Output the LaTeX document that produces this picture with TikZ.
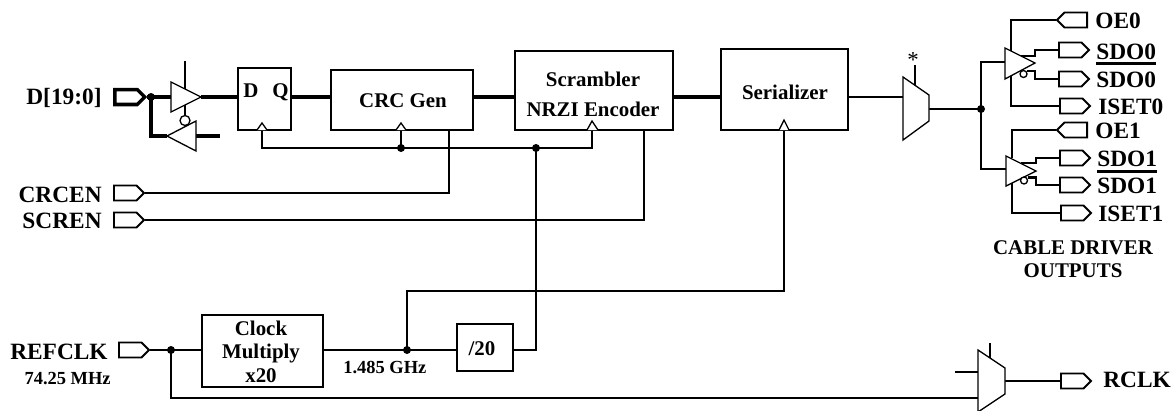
\documentclass[tikz,border=0pt]{standalone}
\usepackage{fontspec}
\setmainfont{Liberation Serif}
\usepackage{tikz}
\usetikzlibrary{fit,shapes.symbols}

\tikzset{
  wire/.style={line width=1.25pt},
  bus/.style={line width=2pt},
  gate/.style={line width=.75pt,fill=white,line join=miter},
  blockbox/.style={draw,line width=1.25pt,inner sep=0pt},
  jct/.style={circle,fill=black,inner sep=0pt,minimum size=.16cm},
  bubble/.style={circle,draw,fill=white,line width=.75pt,inner sep=0pt,minimum size=.14cm},
  portout/.style={signal,signal to=east,draw,line width=1.1pt,inner sep=0pt,minimum width=.6cm,minimum height=.3cm,anchor=west},
  portin/.style={signal,signal to=west,draw,line width=1.1pt,inner sep=0pt,minimum width=.6cm,minimum height=.3cm,anchor=east},
  big/.style={font=\bfseries\fontsize{13.3}{15}\selectfont,inner sep=0pt},
  mid/.style={font=\bfseries\fontsize{11.9}{14}\selectfont,inner sep=0pt,anchor=base},
  small/.style={font=\bfseries\fontsize{10.5}{12}\selectfont,inner sep=0pt,anchor=base},
}

\begin{document}
\begin{tikzpicture}[x=.02cm,y=-.02cm]
  \useasboundingbox (0,0) rectangle (1176,410);

  % blocks
  \node[blockbox,fit={(238,68)(291,130)}] (ff) {};
  \node[blockbox,fit={(331,70)(473,130)}] (crc) {};
  \node[blockbox,fit={(515,51)(673,130)}] (scr) {};
  \node[blockbox,fit={(721,49)(848,130)}] (ser) {};
  \node[blockbox,fit={(202,315)(323,387)}] (pll) {};
  \node[blockbox,fit={(457,324)(513,371)}] (div) {};

  \node[mid,anchor=base west] (dtxt) at (243,97) {D};
  \node[mid,anchor=base west] (qtxt) at (272,97) {Q};
  \node[mid] (crctxt) at (403,107) {CRC Gen};
  \node[mid] (scrtxt) at (593,86) {Scrambler};
  \node[mid] (nrztxt) at (593,116) {NRZI Encoder};
  \node[mid] (sertxt) at (785,99) {Serializer};
  \node[mid] (plla) at (261,335) {Clock};
  \node[mid] (pllb) at (261,358) {Multiply};
  \node[mid] (pllc) at (261,382) {x20};
  \node[mid] (divtxt) at (482,355) {/20};

  % ports
  \node[portout,line width=2pt] (dport) at (113,97) {};
  \node[portout] (crcport) at (113,193) {};
  \node[portout] (scrport) at (113,220) {};
  \node[portout] (refport) at (118,350) {};
  \node[portout] (rclkport) at (1060,381) {};
  \node[portin] (oeaport) at (1088,20) {};
  \node[portout] (sdoaport) at (1058,50) {};
  \node[portout] (sdobport) at (1058,79) {};
  \node[portout] (isaport) at (1059,106) {};
  \node[portin] (oebport) at (1088,130) {};
  \node[portout] (sdocport) at (1059,158) {};
  \node[portout] (sdodport) at (1059,185) {};
  \node[portout] (isbport) at (1060,213) {};

  % labels
  \node[big,anchor=base east] (dlbl) at (102,104) {D[19:0]};
  \node[big,anchor=base east] (crclbl) at (102,202) {CRCEN};
  \node[big,anchor=base east] (scrlbl) at (102,228) {SCREN};
  \node[big,anchor=base east] (reflbl) at (108,359) {REFCLK};
  \node[small,anchor=base east] (reffrq) at (111,384) {74.25 MHz};
  \node[small,anchor=base west] (hifrq) at (343,373) {1.485 GHz};
  \node[big,anchor=base west] (rclklbl) at (1103,387) {RCLK};
  \node[big,anchor=base west] (oealbl) at (1095,28) {OE0};
  \node[big,anchor=base west] (sdoalbl) at (1096,59) {SDO0};
  \node[big,anchor=base west] (sdoblbl) at (1096,87) {SDO0};
  \node[big,anchor=base west] (isalbl) at (1098,114) {ISET0};
  \node[big,anchor=base west] (oeblbl) at (1095,138) {OE1};
  \node[big,anchor=base west] (sdoclbl) at (1097,166) {SDO1};
  \node[big,anchor=base west] (sdodlbl) at (1097,193) {SDO1};
  \node[big,anchor=base west] (isblbl) at (1098,221) {ISET1};
  \node[mid] (cablbl) at (1073,254) {CABLE DRIVER};
  \node[mid] (outlbl) at (1073,277) {OUTPUTS};
  \node[small,font=\fontsize{13}{14}\selectfont] (star) at (913,67) {*};
  \draw[line width=1.3pt] ([yshift=-.08cm]sdoalbl.south west) -- ([yshift=-.08cm]sdoalbl.south east);
  \draw[line width=1.3pt] ([yshift=-.1cm]sdoclbl.south west) -- ([yshift=-.1cm]sdoclbl.south east);

  % junctions and pins
  \node[jct] (dj) at (151,97) {};
  \node[jct] (ckj) at (401,148) {};
  \node[jct] (cksj) at (536,148) {};
  \node[jct] (refj) at (171,350) {};
  \node[jct] (hfj) at (407,350) {};
  \node[jct] (muxj) at (981,109) {};
  \coordinate (ena) at (185,61);
  \coordinate (enb) at (185,90);
  \coordinate (enc) at (185,105);
  \coordinate (bufain) at (171,97);
  \coordinate (bufaout) at (201,97);
  \coordinate (bufbin) at (167,136);
  \coordinate (bufbout) at (196,136);
  \coordinate (bufbend) at (220,136);
  \coordinate (ffd) at (ff.west |- bufaout);
  \coordinate (ffq) at (ff.east |- bufaout);
  \coordinate (ffck) at (262,130);
  \coordinate (crcck) at (401,130);
  \coordinate (scrck) at (592,130);
  \coordinate (serck) at (784,130);
  \coordinate (muxain) at (903,97);
  \coordinate (muxaout) at (929,109);
  \coordinate (muxasel) at (915,65);
  \coordinate (muxasel2) at (915,85);
  \coordinate (muxbin) at (978,398);
  \coordinate (muxbstub) at (955,372);
  \coordinate (muxbstub2) at (978,372);
  \coordinate (muxbsel) at (990,343);
  \coordinate (muxbsel2) at (990,358);
  \coordinate (muxbout) at (1005,381);
  \coordinate (drva) at (1005,62);
  \coordinate (drvb) at (1006,169);
  \coordinate (drvaoe) at (1011,51);
  \coordinate (drvais) at (1011,73);
  \coordinate (drvboe) at (1012,158);
  \coordinate (drvbis) at (1012,181);

  % wires
  \draw[bus] (dport.east) -- (dj.center) -- (bufain);
  \draw[bus] (dj.center) |- (bufbin);
  \draw[bus] (bufbout) -- (bufbend);
  \draw[bus] (bufaout) -- (ffd);
  \draw[bus] (ffq) -- (crc.west |- ffq);
  \draw[bus] (crc.east |- ffq) -- (scr.west |- ffq);
  \draw[bus] (scr.east |- ffq) -- (ser.west |- ffq);
  \draw[wire] (ser.east |- muxain) -- (muxain);
  \draw[wire] (ena) -- (enb);
  \draw[wire] (ffck) |- (cksj.center);
  \draw[wire] (crcck) -- (ckj.center);
  \draw[wire] (cksj.center) -| (scrck);
  \draw[wire] (crcport.east) -| (449,130);
  \draw[wire] (scrport.east) -| (644,130);
  \draw[wire] (refport.east) -- (pll.west |- refj);
  \draw[wire] (pll.east |- refj) -- (div.west |- refj);
  \draw[wire] (div.east |- refj) -- (cksj.center |- refj) -- (cksj.center);
  \draw[wire] (hfj.center) |- (784,291) -- (serck);
  \draw[wire] (refj.center) |- (muxbin);
  \draw[wire] (muxbstub) -- (muxbstub2);
  \draw[wire] (muxbsel) -- (muxbsel2);
  \draw[wire] (muxbout) -- (rclkport.west);
  \draw[wire] (muxasel) -- (muxasel2);
  \draw[wire] (muxaout) -- (muxj.center);
  \draw[wire] (drva) -| (muxj.center) |- (drvb);
  \draw[wire] (oeaport.west) -| (drvaoe);
  \draw[wire] (isaport.west) -| (drvais);
  \draw[wire] (oebport.west) -| (drvboe);
  \draw[wire] (isbport.west) -| (drvbis);
  \draw[wire] (1020,56) -| (1035,50) -- (sdoaport.west);
  \draw[wire] (1027,71) -| (1035,79) -- (sdobport.west);
  \draw[wire] (1021,163) -| (1036,158) -- (sdocport.west);
  \draw[wire] (1028,177.5) -| (1036,185) -- (sdodport.west);

  % gates
  \draw[gate] (bufain |- 0,82) -- (bufaout) -- (bufain |- 0,112) -- cycle;
  \draw[gate] (bufbout |- 0,121) -- (bufbin) -- (bufbout |- 0,151) -- cycle;
  \draw[wire] (enc) -- (185,116);
  \node[bubble,minimum size=.2cm] (enbub) at (185,120.5) {};
  \draw[gate] (903,77) -- (929,95) -- (929,121) -- (903,140) -- cycle;
  \draw[gate] (978,350) -- (1005,368) -- (1005,394) -- (978,412) -- cycle;
  \draw[gate] (1005,48) -- (1035,63) -- (1005,79) -- cycle;
  \draw[gate] (1006,156) -- (1036,171) -- (1006,186) -- cycle;
  \node[bubble] (drvabub) at (1023.5,74) {};
  \node[bubble] (drvbbub) at (1024,180.5) {};

  % clock marks
  \draw[gate] (257,130) -- (ffck |- 0,123) -- (267,130);
  \draw[gate] (396,130) -- (crcck |- 0,123) -- (406,130);
  \draw[gate] (587,130) -- (scrck |- 0,121) -- (598,130);
  \draw[gate] (779,130) -- (serck |- 0,120) -- (789,130);
\end{tikzpicture}
\end{document}
